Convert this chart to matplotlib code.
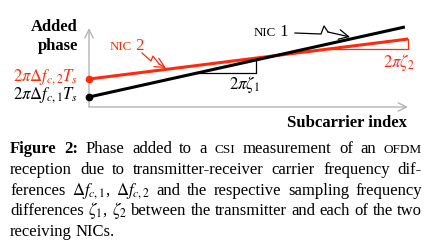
import matplotlib
matplotlib.use('Agg')
import matplotlib.pyplot as plt
import numpy as np

plt.rcParams['font.family'] = 'Liberation Serif'
plt.rcParams['mathtext.fontset'] = 'stix'

RED = '#ff2a0a'
GREY = '#b4b4b4'

# phase vs. normalised subcarrier index (0..1 along the drawn axis)
sub_nic1 = np.array([0.0, 0.984])
phase_nic1 = np.array([0.122, 0.976])
sub_nic2 = np.array([0.0, 0.994])
phase_nic2 = np.array([0.341, 0.829])
# corner of the slope triangles (subcarrier, phase)
step_nic1 = (0.520, 0.415)
step_nic2 = (0.994, 0.707)

caption = [
    [[("Figure", 'b')], [("2:", 'b')], [("Phase", 'n')], [("added", 'n')], [("to", 'n')],
     [("a", 'n')], [("CSI", 'sc')], [("measurement", 'n')], [("of", 'n')], [("an", 'n')],
     [("OFDM", 'sc')]],
    [[(w, 'n')] for w in "reception due to transmitter-receiver carrier frequency dif-".split()],
    [[("ferences", 'n')], [(r"$\Delta f_{c,1}$,", 'n')], [(r"$\Delta f_{c,2}$", 'n')]]
    + [[(w, 'n')] for w in "and the respective sampling frequency".split()],
    [[("differences", 'n')], [(r"$\zeta_1$,", 'n')], [(r"$\zeta_2$", 'n')]]
    + [[(w, 'n')] for w in "between the transmitter and each of the two".split()],
    [[("receiving", 'n')], [("NICs.", 'n')]],
]
caption_baselines = [153, 174, 195, 215, 236]

STYLE = {
    'n': dict(fontsize=12),
    'b': dict(fontsize=12, fontweight='bold'),
    'sc': dict(fontsize=9.5),
    'dn': dict(fontsize=12),
    'dsc': dict(fontsize=9.4),
}

fig = plt.figure(figsize=(4.33, 2.45), dpi=100)
bg = fig.add_axes([0, 0, 1, 1])
bg.set_xlim(0, 433)
bg.set_ylim(245, 0)
bg.axis('off')

ax = fig.add_axes([89 / 433, 1 - 107 / 245, 321 / 433, 82 / 245])
ax.set_xlim(0, 1)
ax.set_ylim(0, 1)
ax.axis('off')

arrow = dict(arrowstyle='->,head_length=0.6,head_width=0.3', color=GREY, lw=1,
             shrinkA=0, shrinkB=0)
ax.annotate('', xy=(0, 0.963), xytext=(0, 0), arrowprops=arrow, annotation_clip=False)
ax.annotate('', xy=(0.994, 0), xytext=(0, 0), arrowprops=arrow, annotation_clip=False)


def step(xs, ys, corner, color):
    cx, cy = corner
    x0 = np.interp(cy, ys, xs)
    y1 = np.interp(cx, xs, ys)
    ax.plot([x0, cx, cx], [cy, cy, y1], color=color, lw=0.9, clip_on=False, zorder=2)


step(sub_nic2, phase_nic2, step_nic2, RED)
step(sub_nic1, phase_nic1, step_nic1, 'black')
ax.plot(sub_nic2, phase_nic2, color=RED, lw=2.2, solid_capstyle='butt', clip_on=False, zorder=3)
ax.plot(sub_nic1, phase_nic1, color='black', lw=2.2, solid_capstyle='butt', clip_on=False, zorder=4)
ax.plot(0, phase_nic2[0], 'o', color=RED, ms=4.5, clip_on=False, zorder=5)
ax.plot(0, phase_nic1[0], 'o', color='black', ms=4.5, clip_on=False, zorder=5)

# labels
bg.text(78, 31, "Added", ha='right', va='baseline', fontsize=12, fontweight='bold')
bg.text(78, 50, "phase", ha='right', va='baseline', fontsize=12, fontweight='bold')
bg.text(78, 81, r"$2\pi\Delta f_{c,2}T_s$", ha='right', va='baseline', fontsize=12, color=RED)
bg.text(78, 99, r"$2\pi\Delta f_{c,1}T_s$", ha='right', va='baseline', fontsize=12)
bg.text(407, 127, "Subcarrier index", ha='right', va='baseline', fontsize=12, fontweight='bold')
bg.text(229, 89, r"$2\pi\zeta_1$", ha='left', va='baseline', fontsize=12)
bg.text(383, 67, r"$2\pi\zeta_2$", ha='left', va='baseline', fontsize=12, color=RED)


def put_words(words, x0, y, width=None, color='black', space=3.9):
    r = fig.canvas.get_renderer()
    items = []
    for word in words:
        arts = [bg.text(0, y, t, va='baseline', ha='left', color=color, **STYLE[s])
                for t, s in word]
        items.append((arts, [a.get_window_extent(r).width for a in arts]))
    total = sum(sum(ws) for _, ws in items)
    gap = space if width is None else (width - total) / (len(items) - 1)
    x = x0
    for arts, ws in items:
        for a, w in zip(arts, ws):
            a.set_x(x)
            x += w
        x += gap


put_words([[("NIC", 'dsc'), (" 2", 'dn')]], 110, 50, color=RED)
put_words([[("NIC", 'dsc'), (" 1", 'dn')]], 254, 36)

# squiggly pointers
squig2_x = [142, 151, 153, 159, 166]
squig2_y = [53, 61, 56, 64, 68]
squig1_x = [295, 321, 324, 328, 350]
squig1_y = [33, 34, 26, 32, 37]
for sx, sy, c in [(squig2_x, squig2_y, RED), (squig1_x, squig1_y, 'black')]:
    bg.plot(sx[:-1], sy[:-1], color=c, lw=0.9)
    bg.annotate('', xy=(sx[-1], sy[-1]), xytext=(sx[-2], sy[-2]),
                arrowprops=dict(arrowstyle='->,head_length=0.7,head_width=0.35',
                                color=c, lw=0.9, shrinkA=0, shrinkB=0))

for i, (words, yb) in enumerate(zip(caption, caption_baselines)):
    last = i == len(caption) - 1
    put_words(words, 10, yb, width=None if last else 412)

fig.savefig('out.png', dpi=100)
